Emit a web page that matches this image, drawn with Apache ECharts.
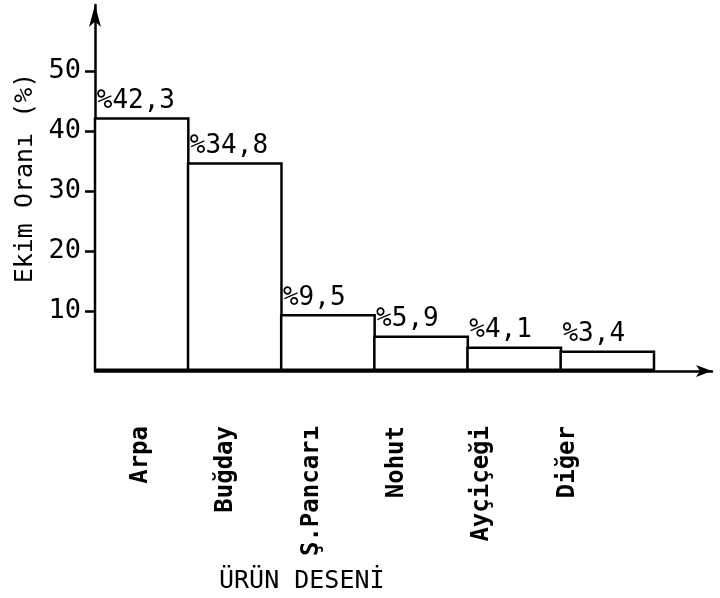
<!DOCTYPE html>
<html>
<head>
<meta charset="utf-8">
<script src="https://cdn.jsdelivr.net/npm/echarts@6/dist/echarts.min.js"></script>
<style>
  html, body { margin: 0; padding: 0; background: #fff; }
  #chart { width: 720px; height: 598px; }
</style>
</head>
<body>
<div id="chart"></div>
<script>
// ekim oranları (%)
var categories = ['Arpa', 'Buğday', 'Ş.Pancarı', 'Nohut', 'Ayçiçeği', 'Diğer'];
var values = [42.3, 34.8, 9.5, 5.9, 4.1, 3.4];
var valueLabels = ['%42,3', '%34,8', '%9,5', '%5,9', '%4,1', '%3,4'];
var yTicks = [10, 20, 30, 40, 50];

var font = 'DejaVu Sans Mono';
var ink = '#000';

var chart = echarts.init(document.getElementById('chart'));

var option = {
  backgroundColor: '#fff',
  animation: false,
  title: {
    text: 'ÜRÜN DESENİ',
    left: 214,
    top: 564,
    textStyle: { fontFamily: font, fontSize: 25, fontWeight: 'normal', color: ink }
  },
  grid: [
    // bars
    { left: 95, right: 66, top: 5, bottom: 227 },
    // x axis line with arrow
    { left: 95, right: 8, top: 5, bottom: 227 },
    // category labels
    { left: 98, right: 110, top: 5, bottom: 227 }
  ],
  xAxis: [
    {
      type: 'category',
      gridIndex: 0,
      data: categories,
      axisLine: { show: false },
      axisTick: { show: false },
      axisLabel: { show: false }
    },
    {
      type: 'value',
      gridIndex: 1,
      min: 0,
      max: 1,
      axisLine: {
        show: true,
        symbol: ['none', 'arrow'],
        symbolSize: [9, 16],
        lineStyle: { color: ink, width: 2.5 }
      },
      axisTick: { show: false },
      axisLabel: { show: false },
      splitLine: { show: false }
    },
    {
      type: 'category',
      gridIndex: 2,
      data: categories,
      axisLine: { show: false },
      axisTick: { show: false },
      axisLabel: {
        rotate: 90,
        margin: 55,
        fontFamily: font,
        fontSize: 24,
        fontWeight: 'bold',
        color: ink
      }
    }
  ],
  yAxis: [
    {
      type: 'value',
      gridIndex: 0,
      min: 0,
      max: 61,
      interval: 10,
      name: 'Ekim Oranı (%)',
      nameLocation: 'middle',
      nameGap: 56,
      nameTextStyle: {
        fontFamily: font, fontSize: 25, color: ink,
        padding: [0, 0, 0, 20]
      },
      axisLine: {
        show: true,
        symbol: ['none', 'arrow'],
        symbolSize: [9, 22],
        lineStyle: { color: ink, width: 2.5 }
      },
      axisTick: {
        show: true,
        length: 10,
        customValues: yTicks,
        lineStyle: { color: ink, width: 2.5 }
      },
      axisLabel: {
        customValues: yTicks,
        margin: 14,
        fontFamily: font,
        fontSize: 27,
        color: ink
      },
      splitLine: { show: false }
    },
    { type: 'value', gridIndex: 1, show: false },
    { type: 'value', gridIndex: 2, show: false }
  ],
  series: [
    {
      type: 'bar',
      xAxisIndex: 0,
      yAxisIndex: 0,
      data: values,
      barWidth: '103%',
      itemStyle: { color: '#fff', borderColor: ink, borderWidth: 2.5 },
      label: {
        show: true,
        position: [3, -3],
        align: 'left',
        verticalAlign: 'bottom',
        fontFamily: font,
        fontSize: 26,
        color: ink,
        formatter: function (p) { return valueLabels[p.dataIndex]; }
      }
    }
  ]
};

chart.setOption(option);
</script>
</body>
</html>
